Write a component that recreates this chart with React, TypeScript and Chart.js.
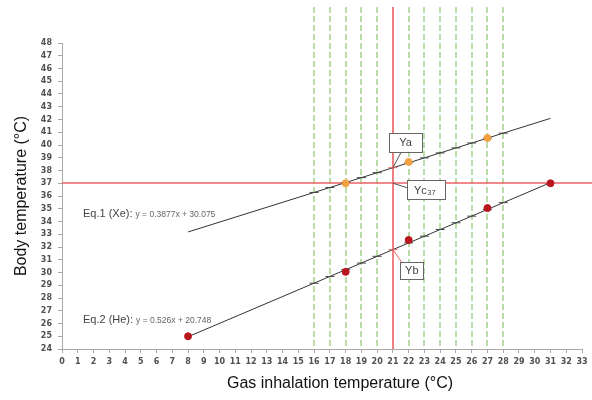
import { useEffect, useRef } from "react";
import { Chart, registerables } from "chart.js";

Chart.register(...registerables);

// ---- data ----
const xRange = [0, 33];
const yRange = [24, 48];

const lineX = [8, 31];
const xeLineY = [33.18, 42.09];
const heLineY = [24.96, 37.05];

const markerX = [16, 17, 18, 19, 20, 21, 22, 23, 24, 25, 26, 27, 28];
const xeMarkerY = [36.28, 36.67, 37.05, 37.44, 37.83, 38.22, 38.6, 38.99, 39.38, 39.77, 40.16, 40.54, 40.93];
const heMarkerY = [29.16, 29.69, 30.22, 30.74, 31.27, 31.79, 32.32, 32.85, 33.37, 33.9, 34.42, 34.95, 35.48];

const xePointX = [18, 22, 27];
const xePointY = [37.0, 38.67, 40.55];
const hePointX = [8, 18, 22, 27, 31];
const hePointY = [25.0, 30.05, 32.55, 35.05, 37.0];

const guideX = [16, 17, 18, 19, 20, 22, 23, 24, 25, 26, 27, 28];
const refX = 21;
const refY = 37;

const eqHeads = ["Eq.1 (Xe):", "Eq.2 (He):"];
const eqBodies = ["y = 0.3877x + 30.075", "y = 0.526x + 20.748"];
const eqAnchorX = [1.33, 1.33];
const eqAnchorY = [34.67, 26.35];

const xTitle = "Gas inhalation temperature (°C)";
const yTitle = "Body temperature (°C)";

const GREEN = "rgb(165, 212, 140)";
const RED = "rgb(236, 96, 100)";
const ORANGE = "#f4a040";
const DARKRED = "#b8161d";
const LINE = "#333333";
const TICK_COLOR = "#505050";
const AXIS_COLOR = "#a8a8a8";

const pts = (xs: number[], ys: number[]) => xs.map((x, i) => ({ x, y: ys[i] }));

const guidesPlugin = {
  id: "guides",
  beforeDatasetsDraw(chart: any) {
    const { ctx, chartArea, scales } = chart;
    const xs = scales.x;
    const ys = scales.y;
    const top = 7;
    guideX.forEach((v) => {
      const px = Math.round(xs.getPixelForValue(v));
      ctx.save();
      ctx.lineWidth = 1.5;
      ctx.strokeStyle = GREEN;
      ctx.setLineDash([6, 3]);
      ctx.beginPath();
      ctx.moveTo(px, top);
      ctx.lineTo(px, chartArea.bottom);
      ctx.stroke();
      ctx.restore();
    });
    const rx = Math.round(xs.getPixelForValue(refX));
    const ry = Math.round(ys.getPixelForValue(refY));
    ctx.save();
    ctx.setLineDash([]);
    ctx.lineWidth = 1.6;
    ctx.strokeStyle = RED;
    ctx.beginPath();
    ctx.moveTo(rx, top);
    ctx.lineTo(rx, chartArea.bottom);
    ctx.stroke();
    ctx.beginPath();
    ctx.moveTo(chartArea.left, ry);
    ctx.lineTo(chart.width, ry);
    ctx.stroke();
    ctx.restore();
  },
};

const labelsPlugin = {
  id: "labels",
  afterDraw(chart: any) {
    const { ctx, chartArea, scales } = chart;
    const xs = scales.x;
    const ys = scales.y;
    ctx.save();
    ctx.font = '16px "Liberation Sans", Arial, sans-serif';
    ctx.fillStyle = "#111";
    ctx.textAlign = "center";
    ctx.textBaseline = "middle";
    ctx.fillText(xTitle, (chartArea.left + chartArea.right) / 2 + 18, 384);

    eqHeads.forEach((head, i) => {
      const px = xs.getPixelForValue(eqAnchorX[i]);
      const py = ys.getPixelForValue(eqAnchorY[i]);
      ctx.textAlign = "left";
      ctx.textBaseline = "alphabetic";
      ctx.fillStyle = "#444";
      ctx.font = '11px "Liberation Sans", Arial, sans-serif';
      ctx.fillText(head, px, py + 4);
      const w = ctx.measureText(head).width;
      ctx.fillStyle = "#666";
      ctx.font = '8.5px "Liberation Sans", Arial, sans-serif';
      ctx.fillText(eqBodies[i], px + w + 3, py + 4);
    });

    const box = (cx: number, cy: number, w: number, h: number) => {
      const x0 = Math.round(cx - w / 2) + 0.5;
      const y0 = Math.round(cy - h / 2) + 0.5;
      ctx.fillStyle = "#fff";
      ctx.fillRect(x0, y0, w, h);
      ctx.strokeStyle = "#666";
      ctx.lineWidth = 1;
      ctx.strokeRect(x0, y0, w, h);
    };
    const seg = (x1: number, y1: number, x2: number, y2: number, c: string) => {
      ctx.strokeStyle = c;
      ctx.lineWidth = 1;
      ctx.beginPath();
      ctx.moveTo(x1, y1);
      ctx.lineTo(x2, y2);
      ctx.stroke();
    };
    const rx = xs.getPixelForValue(refX);
    const yaY = ys.getPixelForValue(xeMarkerY[markerX.indexOf(refX)]);
    const ybY = ys.getPixelForValue(heMarkerY[markerX.indexOf(refX)]);
    const ycY = ys.getPixelForValue(refY);

    const yaCx = xs.getPixelForValue(21.8), yaCy = ys.getPixelForValue(40.2);
    seg(rx, yaY, yaCx - 4, yaCy + 9, "#555");
    box(yaCx, yaCy, 33, 19);
    const ycCx = xs.getPixelForValue(23.1), ycCy = ys.getPixelForValue(36.5);
    seg(rx, ycY, ycCx - 19, ycCy - 2, "#555");
    box(ycCx, ycCy, 38, 19);
    const ybCx = xs.getPixelForValue(22.2), ybCy = ys.getPixelForValue(30.16);
    seg(rx, ybY, ybCx - 10, ybCy - 8, RED);
    box(ybCx, ybCy, 23, 17);

    ctx.fillStyle = "#444";
    ctx.textBaseline = "middle";
    ctx.textAlign = "center";
    ctx.font = '11px "Liberation Sans", Arial, sans-serif';
    ctx.fillText("Ya", yaCx, yaCy + 1);
    ctx.fillText("Yb", ybCx, ybCy + 1);
    ctx.textAlign = "left";
    ctx.fillText("Yc", ycCx - 12, ycCy + 1);
    const wy = ctx.measureText("Yc").width;
    ctx.font = '7.5px "Liberation Sans", Arial, sans-serif';
    ctx.fillText("37", ycCx - 12 + wy + 0.5, ycCy + 3);
    ctx.restore();
  },
};

export default function App() {
  const ref = useRef<HTMLCanvasElement>(null);
  useEffect(() => {
    document.body.style.margin = "0";
    const canvas = ref.current!;
    const tickFont = { family: '"DejaVu Sans", sans-serif', size: 8, weight: "bold" as const };
    const markerColors = markerX.map((x) => (x === refX ? RED : "#444"));
    const chart = new Chart(canvas, {
      type: "scatter",
      data: {
        datasets: [
          {
            label: "Xe orange",
            data: pts(xePointX, xePointY),
            pointRadius: 3.5,
            pointBackgroundColor: ORANGE,
            pointBorderColor: ORANGE,
            showLine: false,
            order: 0,
          },
          {
            label: "He red",
            data: pts(hePointX, hePointY),
            pointRadius: 3.5,
            pointBackgroundColor: DARKRED,
            pointBorderColor: DARKRED,
            showLine: false,
            order: 0,
          },
          {
            label: "Xe markers",
            data: pts(markerX, xeMarkerY),
            pointStyle: "line",
            pointRadius: 4.5,
            pointBorderWidth: 1,
            pointBorderColor: markerColors,
            showLine: false,
            order: 1,
          },
          {
            label: "He markers",
            data: pts(markerX, heMarkerY),
            pointStyle: "line",
            pointRadius: 4.5,
            pointBorderWidth: 1,
            pointBorderColor: markerColors,
            showLine: false,
            order: 1,
          },
          {
            label: "Eq.1",
            data: pts(lineX, xeLineY),
            showLine: true,
            borderColor: LINE,
            borderWidth: 1,
            pointRadius: 0,
            order: 2,
          },
          {
            label: "Eq.2",
            data: pts(lineX, heLineY),
            showLine: true,
            borderColor: LINE,
            borderWidth: 1,
            pointRadius: 0,
            order: 2,
          },
        ],
      },
      options: {
        animation: false,
        responsive: false,
        devicePixelRatio: 1,
        layout: { padding: { top: 43, right: 10, left: 0, bottom: 0 } },
        plugins: { legend: { display: false }, tooltip: { enabled: false } },
        scales: {
          x: {
            type: "linear",
            min: xRange[0],
            max: xRange[1],
            afterFit: (s: any) => {
              s.height = 51;
            },
            border: { display: true, color: AXIS_COLOR },
            grid: { drawOnChartArea: false, drawTicks: true, tickLength: 4, color: AXIS_COLOR },
            ticks: { stepSize: 1, autoSkip: false, maxRotation: 0, padding: 4, color: TICK_COLOR, font: tickFont },
          },
          y: {
            type: "linear",
            min: yRange[0],
            max: yRange[1],
            afterFit: (s: any) => {
              s.width = 62;
            },
            border: { display: true, color: AXIS_COLOR },
            grid: { drawOnChartArea: false, drawTicks: true, tickLength: 4, color: AXIS_COLOR },
            ticks: { stepSize: 1, autoSkip: false, padding: 6, color: TICK_COLOR, font: tickFont },
            title: {
              display: true,
              text: yTitle,
              color: "#111",
              font: { family: '"Liberation Sans", Arial, sans-serif', size: 16 },
              padding: { top: 12, bottom: 0 },
            },
          },
        },
      },
      plugins: [guidesPlugin, labelsPlugin],
    });
    return () => chart.destroy();
  }, []);
  return (
    <div style={{ width: 592, height: 400 }}>
      <canvas ref={ref} width={592} height={400} style={{ display: "block" }} />
    </div>
  );
}
